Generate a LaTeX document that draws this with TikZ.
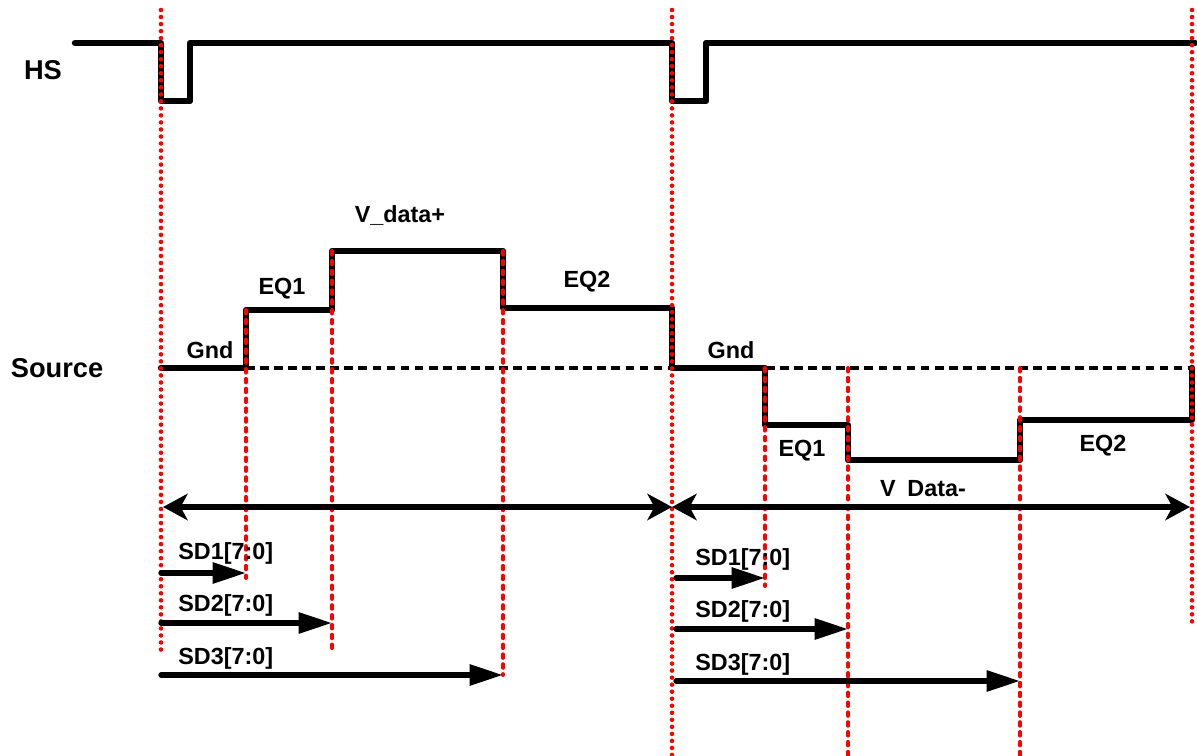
\documentclass[tikz,border=0pt]{standalone}
\usepackage{fontspec}
\setmainfont{Liberation Sans}
\usetikzlibrary{arrows.meta,positioning}
\definecolor{MarkRed}{HTML}{FF0000}

\begin{document}
\begin{tikzpicture}[x=0.02cm,y=-0.02cm,>=Stealth]
  \tikzset{
    wave/.style={line width=3.7pt,line join=round,line cap=round},
    gndline/.style={line width=2.3pt,dash pattern=on 5pt off 3pt},
    tdot/.style={MarkRed,line width=2.6pt,line cap=round,dash pattern=on 0pt off 4pt},
    tdash/.style={MarkRed,line width=2.3pt,line cap=round,dash pattern=on 2pt off 3.6pt},
    period/.style={line width=3.2pt,{Stealth[length=14pt,width=15pt,inset=4pt]}-{Stealth[length=14pt,width=15pt,inset=4pt]}},
    sdarrow/.style={line width=3pt,line cap=round,-{Triangle[length=19pt,width=11.5pt]}},
    lbl/.style={font=\bfseries\fontsize{13.3}{15}\selectfont,inner sep=0pt,anchor=base},
    sig/.style={font=\bfseries\fontsize{15.5}{18}\selectfont,inner sep=0pt,anchor=base}}
  \useasboundingbox (0,0) rectangle (1197,756);

  % signal names
  \node[sig] (hs) at (43,80) {HS};
  \node[sig] (src) at (57,378) {Source};

  % HS waveform
  \draw[wave] (75,43) -| (161,101) -| (190,43) -| (672,101) -| (706,43) -- (1195,43);

  % source waveform
  \draw[gndline] (246,368) -- (1192,368);
  \draw[wave] (161,368) -| (246,310) -| (332,251) -| (503,308) -| (672,368)
    -| (765,425) -| (848,460) -| (1020,420) -| (1192,368);

  % level labels
  \node[lbl] (gndp) at (210,359) {Gnd};
  \node[lbl] (eq1p) at (282,295) {EQ1};
  \node[lbl] (vdp) at (400,223) {V\_data+};
  \node[lbl] (eq2p) at (587,288) {EQ2};
  \node[lbl] (gndn) at (731,359) {Gnd};
  \node[lbl] (eq1n) at (802,457) {EQ1};
  \node[lbl] (eq2n) at (1103,452) {EQ2};
  \node[lbl] (vdn) at (923,497) {V\enspace Data-};

  % timing marks
  \foreach \x/\a/\b/\s in {161/10/655/tdot,246/310/578/tdash,332/251/652/tdash,
      503/251/675/tdash,672/10/756/tdot,765/368/586/tdash,848/368/756/tdash,
      1020/368/756/tdash,1192/10/626/tdot}
    \draw[\s] (\x,\a) -- (\x,\b);

  % line periods
  \coordinate (p0) at (163,507);
  \coordinate (p1) at (672,507);
  \coordinate (p2) at (1190,507);
  \draw[period] (p0) -- (p1);
  \draw[period] (p1) -- (p2);

  % source driver timing, positive line
  \coordinate (a0) at (161,573);  \coordinate (a1) at (246,573);
  \coordinate (b0) at (161,623);  \coordinate (b1) at (332,623);
  \coordinate (c0) at (161,675);  \coordinate (c1) at (503,675);
  \draw[sdarrow] (a0) -- (a1);
  \draw[sdarrow] (b0) -- (b1);
  \draw[sdarrow] (c0) -- (c1);
  \node[lbl,anchor=base west] (sd1p) at (178,560) {SD1[7:0]};
  \node[lbl,anchor=base west] (sd2p) at (178,612) {SD2[7:0]};
  \node[lbl,anchor=base west] (sd3p) at (178,664) {SD3[7:0]};

  % source driver timing, negative line
  \coordinate (d0) at (676,578);  \coordinate (d1) at (765,578);
  \coordinate (e0) at (676,629);  \coordinate (e1) at (848,629);
  \coordinate (f0) at (676,681);  \coordinate (f1) at (1020,681);
  \draw[sdarrow] (d0) -- (d1);
  \draw[sdarrow] (e0) -- (e1);
  \draw[sdarrow] (f0) -- (f1);
  \node[lbl,anchor=base west] (sd1n) at (695,566) {SD1[7:0]};
  \node[lbl,anchor=base west] (sd2n) at (695,618) {SD2[7:0]};
  \node[lbl,anchor=base west] (sd3n) at (695,670) {SD3[7:0]};
\end{tikzpicture}
\end{document}
